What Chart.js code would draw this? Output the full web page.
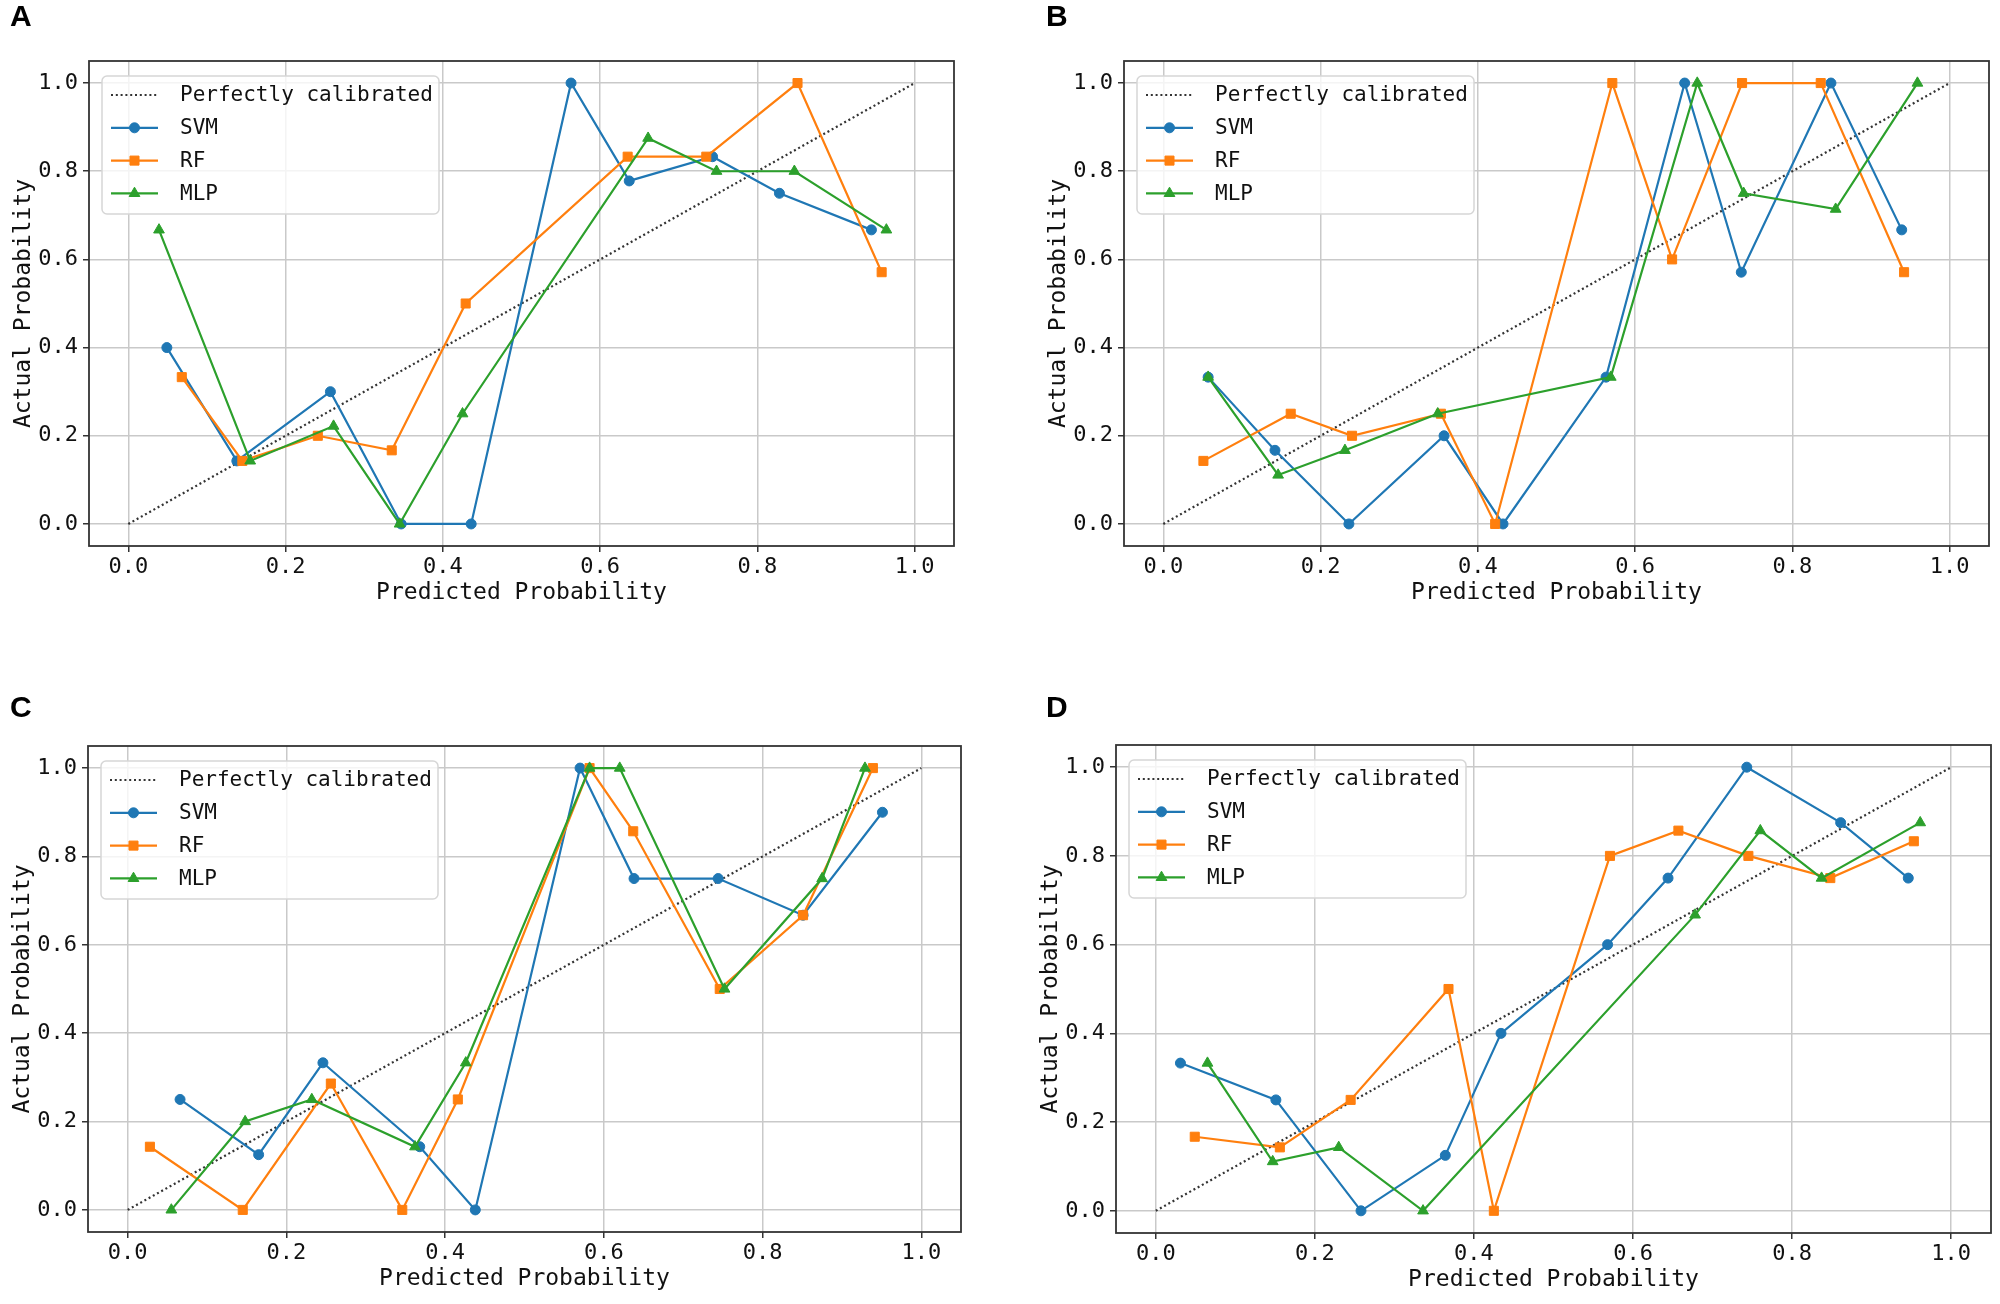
<!DOCTYPE html>
<html>
<head>
<meta charset="utf-8">
<script src="https://cdn.jsdelivr.net/npm/chart.js@4.4.0/dist/chart.umd.min.js"></script>
<style>
  html, body { margin: 0; padding: 0; background: #fff; }
  #wrap { position: relative; width: 2000px; height: 1304px; overflow: hidden; }
  .panel { position: absolute; width: 1000px; height: 652px; }
  .letter { position: absolute; font: bold 30px "Liberation Sans", Arial, sans-serif; line-height: 30px; color: #000; }
</style>
</head>
<body>
<div id="wrap">
  <div class="panel" style="left:0;top:0"><canvas id="cA"></canvas></div>
  <div class="panel" style="left:1000px;top:0"><canvas id="cB"></canvas></div>
  <div class="panel" style="left:0;top:652px"><canvas id="cC"></canvas></div>
  <div class="panel" style="left:1000px;top:652px"><canvas id="cD"></canvas></div>
  <div class="letter" style="left:10px;top:1px">A</div>
  <div class="letter" style="left:1046px;top:1px">B</div>
  <div class="letter" style="left:10px;top:692px">C</div>
  <div class="letter" style="left:1046px;top:692px">D</div>
</div>
<script>
// ---- data ----
const tickValues = [0.0, 0.2, 0.4, 0.6, 0.8, 1.0];
const seriesNames = ['Perfectly calibrated', 'SVM', 'RF', 'MLP'];
const diagonalX = [0, 1];
const diagonalY = [0, 1];

// panel A
const svmAx = [0.049, 0.138, 0.257, 0.347, 0.436, 0.563, 0.637, 0.743, 0.828, 0.945];
const svmAy = [0.400, 0.143, 0.300, 0.000, 0.000, 1.000, 0.778, 0.833, 0.750, 0.667];
const rfAx  = [0.068, 0.145, 0.241, 0.335, 0.429, 0.635, 0.735, 0.851, 0.958];
const rfAy  = [0.333, 0.143, 0.200, 0.167, 0.500, 0.833, 0.833, 1.000, 0.571];
const mlpAx = [0.039, 0.155, 0.261, 0.345, 0.425, 0.661, 0.748, 0.847, 0.964];
const mlpAy = [0.667, 0.143, 0.222, 0.000, 0.250, 0.875, 0.800, 0.800, 0.667];

// panel B
const svmBx = [0.057, 0.142, 0.236, 0.357, 0.432, 0.563, 0.663, 0.735, 0.849, 0.939];
const svmBy = [0.333, 0.167, 0.000, 0.200, 0.000, 0.333, 1.000, 0.571, 1.000, 0.667];
const rfBx  = [0.051, 0.162, 0.240, 0.353, 0.422, 0.571, 0.647, 0.736, 0.836, 0.942];
const rfBy  = [0.143, 0.250, 0.200, 0.250, 0.000, 1.000, 0.600, 1.000, 1.000, 0.571];
const mlpBx = [0.057, 0.146, 0.231, 0.349, 0.569, 0.679, 0.738, 0.855, 0.959];
const mlpBy = [0.333, 0.111, 0.167, 0.250, 0.333, 1.000, 0.750, 0.714, 1.000];

// panel C
const svmCx = [0.066, 0.165, 0.246, 0.368, 0.438, 0.570, 0.638, 0.744, 0.851, 0.951];
const svmCy = [0.250, 0.125, 0.333, 0.143, 0.000, 1.000, 0.750, 0.750, 0.667, 0.900];
const rfCx  = [0.028, 0.145, 0.256, 0.346, 0.416, 0.582, 0.637, 0.746, 0.851, 0.939];
const rfCy  = [0.143, 0.000, 0.286, 0.000, 0.250, 1.000, 0.857, 0.500, 0.667, 1.000];
const mlpCx = [0.055, 0.148, 0.232, 0.362, 0.426, 0.582, 0.620, 0.752, 0.875, 0.929];
const mlpCy = [0.000, 0.200, 0.250, 0.143, 0.333, 1.000, 1.000, 0.500, 0.750, 1.000];

// panel D
const svmDx = [0.031, 0.151, 0.258, 0.364, 0.434, 0.568, 0.644, 0.743, 0.861, 0.946];
const svmDy = [0.333, 0.250, 0.000, 0.125, 0.400, 0.600, 0.750, 1.000, 0.875, 0.750];
const rfDx  = [0.049, 0.156, 0.245, 0.368, 0.425, 0.571, 0.657, 0.745, 0.848, 0.953];
const rfDy  = [0.167, 0.143, 0.250, 0.500, 0.000, 0.800, 0.857, 0.800, 0.750, 0.833];
const mlpDx = [0.065, 0.147, 0.230, 0.336, 0.678, 0.760, 0.837, 0.961];
const mlpDy = [0.333, 0.111, 0.143, 0.000, 0.667, 0.857, 0.750, 0.875];

// ---- layout / style ----
const MONO = '"DejaVu Sans Mono", "Liberation Mono", monospace';
const Y_AXIS_W = 85, X_AXIS_H = 70;
// chart area inside each 1000x652 panel
const panels = [
  { id: 'cA', left: 89,  right: 954, top: 61, bottom: 546, series: [[svmAx, svmAy], [rfAx, rfAy], [mlpAx, mlpAy]] },
  { id: 'cB', left: 124, right: 989, top: 61, bottom: 546, series: [[svmBx, svmBy], [rfBx, rfBy], [mlpBx, mlpBy]] },
  { id: 'cC', left: 88,  right: 961, top: 94, bottom: 580, series: [[svmCx, svmCy], [rfCx, rfCy], [mlpCx, mlpCy]] },
  { id: 'cD', left: 116, right: 991, top: 93, bottom: 581, series: [[svmDx, svmDy], [rfDx, rfDy], [mlpDx, mlpDy]] }
];
const colors = ['#1f77b4', '#ff7f0e', '#2ca02c'];
const markers = ['circle', 'rect', 'triangle'];
const markerR = [5, 6.4, 6.2];

const pts = (xs, ys) => xs.map((x, i) => ({ x: x, y: ys[i] }));

// frame + matplotlib-style legend
const framePlugin = {
  id: 'frameLegend',
  afterDatasetsDraw(chart) {
    const ctx = chart.ctx, a = chart.chartArea;
    ctx.save();
    ctx.strokeStyle = '#333';
    ctx.lineWidth = 1.8;
    ctx.strokeRect(a.left, a.top, a.right - a.left, a.bottom - a.top);

    const bx = a.left + 13, by = a.top + 15, bw = 337, bh = 138;
    ctx.beginPath();
    ctx.roundRect(bx, by, bw, bh, 5);
    ctx.fillStyle = 'rgba(255,255,255,0.8)';
    ctx.fill();
    ctx.strokeStyle = '#d6d6d6';
    ctx.lineWidth = 1.5;
    ctx.stroke();

    chart.data.datasets.forEach((ds, i) => {
      const y = by + 19 + i * 32.8;
      ctx.beginPath();
      ctx.setLineDash(ds.borderDash || []);
      ctx.strokeStyle = ds.borderColor;
      ctx.lineWidth = ds.borderWidth;
      ctx.moveTo(bx + 9, y);
      ctx.lineTo(bx + 56, y);
      ctx.stroke();
      ctx.setLineDash([]);
      if (ds.pointRadius > 0) {
        ctx.fillStyle = ds.backgroundColor;
        ctx.strokeStyle = ds.borderColor;
        ctx.lineWidth = 1;
        Chart.helpers.drawPoint(ctx, { pointStyle: ds.pointStyle, radius: ds.pointRadius, rotation: 0, borderWidth: 1 }, bx + 32.5, y);
      }
      ctx.fillStyle = '#111';
      ctx.font = '21px ' + MONO;
      ctx.textBaseline = 'middle';
      ctx.textAlign = 'left';
      ctx.fillText(ds.label, bx + 78, y + 1);
    });
    ctx.restore();
  }
};

function axis(title, isX) {
  return {
    type: 'linear',
    min: -0.05,
    max: 1.05,
    afterBuildTicks: s => { s.ticks = tickValues.map(v => ({ value: v })); },
    afterFit: s => { if (isX) s.height = X_AXIS_H; else s.width = Y_AXIS_W; },
    ticks: {
      color: '#111',
      font: { family: MONO, size: 22 },
      padding: isX ? 2 : 5,
      maxRotation: 0,
      callback: v => v.toFixed(1)
    },
    grid: { color: '#c9c9c9', lineWidth: 1.5, tickLength: 6, tickColor: '#333', tickWidth: 1.5 },
    border: { display: false },
    title: {
      display: true,
      text: title,
      color: '#111',
      font: { family: MONO, size: 23 },
      padding: isX ? { top: 4, bottom: 9 } : { top: 6, bottom: 4 }
    }
  };
}

panels.forEach(p => {
  const datasets = [{
    label: seriesNames[0],
    data: pts(diagonalX, diagonalY),
    borderColor: '#333',
    backgroundColor: '#333',
    borderWidth: 2.2,
    borderDash: [2, 2.8],
    pointRadius: 0,
    showLine: true,
    order: 3
  }];
  p.series.forEach((s, i) => {
    datasets.push({
      label: seriesNames[i + 1],
      data: pts(s[0], s[1]),
      borderColor: colors[i],
      backgroundColor: colors[i],
      borderWidth: 2.2,
      pointStyle: markers[i],
      pointRadius: markerR[i],
      pointBorderWidth: 1,
      showLine: true,
      order: 2 - i
    });
  });

  new Chart(document.getElementById(p.id), {
    type: 'scatter',
    data: { datasets: datasets },
    options: {
      responsive: true,
      maintainAspectRatio: false,
      animation: false,
      layout: {
        padding: {
          left: p.left - Y_AXIS_W,
          right: 1000 - p.right,
          top: p.top,
          bottom: 652 - p.bottom - X_AXIS_H
        }
      },
      plugins: { legend: { display: false }, tooltip: { enabled: false } },
      scales: {
        x: axis('Predicted Probability', true),
        y: axis('Actual Probability', false)
      }
    },
    plugins: [framePlugin]
  });
});
</script>
</body>
</html>
